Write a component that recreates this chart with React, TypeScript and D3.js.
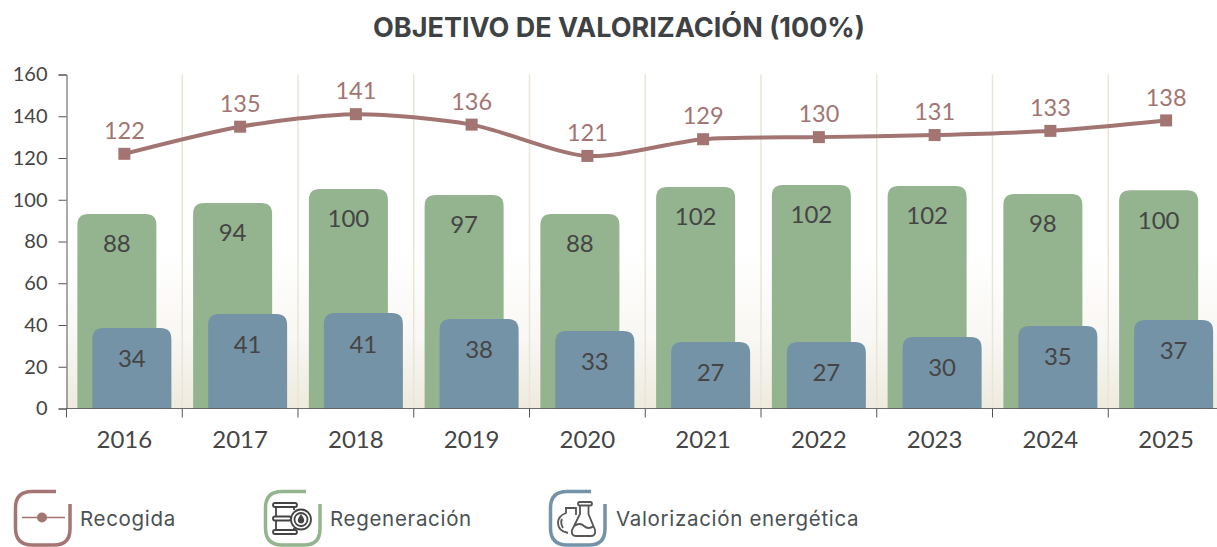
import * as d3 from 'd3';
import { useEffect, useRef } from 'react';

const years = ['2016', '2017', '2018', '2019', '2020', '2021', '2022', '2023', '2024', '2025'];
const recogida = [122, 135, 141, 136, 121, 129, 130, 131, 133, 138];
const regeneracionLabels = [88, 94, 100, 97, 88, 102, 102, 102, 98, 100];
const valorizacionLabels = [34, 41, 41, 38, 33, 27, 27, 30, 35, 37];
// the bars in the picture stand a bit taller than their printed labels
const regeneracionBars = [93.2, 98.5, 105.2, 102.3, 93.2, 106.1, 107.1, 106.6, 102.8, 104.6];
const valorizacionBars = [38.6, 45.3, 45.7, 42.9, 37.1, 31.9, 31.9, 34.3, 39.5, 42.4];
const yTicks = [0, 20, 40, 60, 80, 100, 120, 140, 160];

const title = 'OBJETIVO DE VALORIZACIÓN (100%)';
const legendNames = ['Recogida', 'Regeneración', 'Valorización energética'];
const legendColors = ['#a47673', '#94b38f', '#7593a8'];
const legendX = [14, 264, 549];

const lineColor = '#a27572';
const greenColor = '#94b38f';
const blueColor = '#7593a6';
const textColor = '#454545';
const numberFont = 'Lato, sans-serif';

const width = 1217;
const height = 547;
const margin = { left: 66.5, right: 1224, top: 74.5, bottom: 408.5 };
const barWidth = 79;
const barOffset = 7.5;
const radius = 11;

// bar with rounded top corners only
const barPath = (x: number, y0: number, y1: number, w: number, r: number) => {
    const p = d3.path();
    p.moveTo(x, y0);
    p.lineTo(x, y1 + r);
    p.quadraticCurveTo(x, y1, x + r, y1);
    p.lineTo(x + w - r, y1);
    p.quadraticCurveTo(x + w, y1, x + w, y1 + r);
    p.lineTo(x + w, y0);
    p.closePath();
    return p.toString();
};

const App = () => {
    const svgRef = useRef<SVGSVGElement>(null);

    useEffect(() => {
        const svg = d3.select(svgRef.current);
        svg.selectAll('*').remove();

        const xScale = d3.scaleBand().domain(years).range([margin.left, margin.right]);
        const yScale = d3.scaleLinear().domain([0, 160]).range([margin.bottom, margin.top]);
        const center = (d: string) => (xScale(d) as number) + xScale.bandwidth() / 2;

        // background fade at the bottom of the plot
        const grad = svg.append('defs').append('linearGradient')
            .attr('id', 'fade').attr('x1', 0).attr('x2', 0).attr('y1', 0).attr('y2', 1);
        grad.append('stop').attr('offset', 0).attr('stop-color', '#ffffff');
        grad.append('stop').attr('offset', 0.55).attr('stop-color', '#f8f7f3');
        grad.append('stop').attr('offset', 1).attr('stop-color', '#eeeadd');

        svg.append('rect')
            .attr('x', margin.left).attr('y', yScale(75))
            .attr('width', width - margin.left).attr('height', yScale(0) - yScale(75))
            .attr('fill', 'url(#fade)');

        // vertical separators
        const edges = years.slice(1).map(d => xScale(d) as number);
        svg.append('g').selectAll('line').data(edges).enter().append('line')
            .attr('x1', d => d).attr('x2', d => d)
            .attr('y1', margin.top).attr('y2', margin.bottom)
            .attr('stroke', '#e9e6d8').attr('stroke-width', 1.5);

        // bars
        svg.append('g').selectAll('path').data(years).enter().append('path')
            .attr('d', (d, i) => barPath(center(d) - barOffset - barWidth / 2, yScale(0), yScale(regeneracionBars[i]), barWidth, radius))
            .attr('fill', greenColor);
        svg.append('g').selectAll('path').data(years).enter().append('path')
            .attr('d', (d, i) => barPath(center(d) + barOffset - barWidth / 2, yScale(0), yScale(valorizacionBars[i]), barWidth, radius))
            .attr('fill', blueColor);

        // bar labels
        svg.append('g').selectAll('text').data(years).enter().append('text')
            .attr('x', d => center(d) - barOffset)
            .attr('y', (d, i) => yScale(regeneracionBars[i]) + 30)
            .attr('dy', '0.35em').attr('text-anchor', 'middle')
            .attr('font-family', numberFont).attr('font-size', 24).attr('fill', textColor)
            .text((d, i) => regeneracionLabels[i]);
        svg.append('g').selectAll('text').data(years).enter().append('text')
            .attr('x', d => center(d) + barOffset)
            .attr('y', (d, i) => yScale(valorizacionBars[i]) + 31)
            .attr('dy', '0.35em').attr('text-anchor', 'middle')
            .attr('font-family', numberFont).attr('font-size', 24).attr('fill', textColor)
            .text((d, i) => valorizacionLabels[i]);

        // line
        const line = d3.line<number>()
            .x((d, i) => center(years[i]))
            .y(d => yScale(d))
            .curve(d3.curveCardinal.tension(0.2));
        svg.append('path').datum(recogida)
            .attr('d', line)
            .attr('fill', 'none').attr('stroke', lineColor).attr('stroke-width', 4);
        svg.append('g').selectAll('rect').data(recogida).enter().append('rect')
            .attr('x', (d, i) => center(years[i]) - 6)
            .attr('y', d => yScale(d) - 6)
            .attr('width', 12).attr('height', 12)
            .attr('fill', lineColor);
        svg.append('g').selectAll('text').data(recogida).enter().append('text')
            .attr('x', (d, i) => center(years[i]))
            .attr('y', d => yScale(d) - 23)
            .attr('dy', '0.35em').attr('text-anchor', 'middle')
            .attr('font-family', numberFont).attr('font-size', 23.5).attr('fill', lineColor)
            .text(d => d);

        // axes
        const yAxis = d3.axisLeft(yScale).tickValues(yTicks).tickSize(8).tickPadding(11);
        const yG = svg.append('g').attr('transform', `translate(${margin.left}, 0)`).call(yAxis);
        yG.select('.domain').attr('stroke', '#555');
        yG.selectAll('.tick line').attr('stroke', '#555');
        yG.selectAll('text')
            .attr('font-family', numberFont).attr('font-size', 20).attr('fill', textColor);

        svg.append('line')
            .attr('x1', margin.left).attr('x2', width)
            .attr('y1', margin.bottom).attr('y2', margin.bottom)
            .attr('stroke', '#555').attr('stroke-opacity', 0.85).attr('stroke-width', 1.2);

        svg.append('g').selectAll('line').data([margin.left, ...edges]).enter().append('line')
            .attr('x1', d => d).attr('x2', d => d)
            .attr('y1', margin.bottom).attr('y2', margin.bottom + 9)
            .attr('stroke', '#555');

        svg.append('g').selectAll('text').data(years).enter().append('text')
            .attr('x', d => center(d))
            .attr('y', margin.bottom + 31)
            .attr('dy', '0.35em').attr('text-anchor', 'middle')
            .attr('font-family', numberFont).attr('font-size', 24).attr('fill', textColor)
            .text(d => d);

        // title
        svg.append('text')
            .attr('x', 619).attr('y', 28).attr('dy', '0.35em')
            .attr('text-anchor', 'middle')
            .attr('font-family', 'Inter, sans-serif').attr('font-weight', 700).attr('font-size', 27)
            .attr('fill', '#3f4244')
            .text(title);

        // legend
        const legend = svg.append('g').selectAll('g').data(legendNames).enter().append('g')
            .attr('transform', (d, i) => `translate(${legendX[i]}, 490)`);
        legend.append('path')
            .attr('d', 'M42 1.5H18Q1.5 1.5 1.5 18V38Q1.5 55 18 55H40Q56 55 56 39V14')
            .attr('fill', 'none')
            .attr('stroke', (d, i) => legendColors[i])
            .attr('stroke-width', 3.5);
        legend.append('text')
            .attr('x', (d, i) => [66, 66, 67][i])
            .attr('y', 28.5).attr('dy', '0.35em')
            .attr('font-family', 'Inter, sans-serif').attr('font-size', 20.5)
            .attr('letter-spacing', 0.68)
            .attr('fill', '#4a5154')
            .text(d => d);

        // recogida icon
        const g0 = legend.filter((d, i) => i === 0);
        g0.append('line').attr('x1', 8).attr('x2', 51).attr('y1', 27.5).attr('y2', 27.5)
            .attr('stroke', lineColor).attr('stroke-width', 1.5);
        g0.append('circle').attr('cx', 28).attr('cy', 27.5).attr('r', 5).attr('fill', lineColor);

        // barrel icon
        const g1 = legend.filter((d, i) => i === 1);
        const icon = g1.append('g').attr('fill', 'none').attr('stroke', '#444').attr('stroke-width', 1.8);
        icon.append('rect').attr('x', 9).attr('y', 13).attr('width', 24).attr('height', 4).attr('rx', 2);
        icon.append('rect').attr('x', 9).attr('y', 40).attr('width', 24).attr('height', 4).attr('rx', 2);
        icon.append('rect').attr('x', 9).attr('y', 26.5).attr('width', 18).attr('height', 4).attr('rx', 2);
        icon.append('path').attr('d', 'M12 17V26.5M12 30.5V40M30 17V20M30 38V40');
        icon.append('circle').attr('cx', 37).attr('cy', 29.5).attr('r', 10).attr('fill', '#fff');
        icon.append('circle').attr('cx', 37).attr('cy', 29.5).attr('r', 6.5);
        icon.append('path').attr('d', 'M37 24C34 28 33.5 30 34 31.5A3.2 3.2 0 0 0 40 31.5C40.5 30 40 28 37 24Z').attr('fill', '#444').attr('stroke', 'none');

        // flasks icon
        const g2 = legend.filter((d, i) => i === 2);
        const flask = g2.append('g').attr('fill', 'none').attr('stroke', '#555').attr('stroke-width', 1.8);
        flask.append('path').attr('d', 'M16 18H27V25M17 18V23Q9 26 9 33Q9 41 19 43M13 29Q11 33 14 38');
        flask.append('rect').attr('x', 29).attr('y', 12).attr('width', 14).attr('height', 3.5).attr('rx', 1.7);
        flask.append('path').attr('d', 'M39.5 16V24L46 40Q47 46 42 46H27Q22 46 23 40L31 24V16M25 36Q31 32 35 36T45 36');
    }, []);

    return <svg ref={svgRef} width={width} height={height} style={{ position: 'absolute', left: 0, top: 0, display: 'block' }}></svg>;
};

export default App;
